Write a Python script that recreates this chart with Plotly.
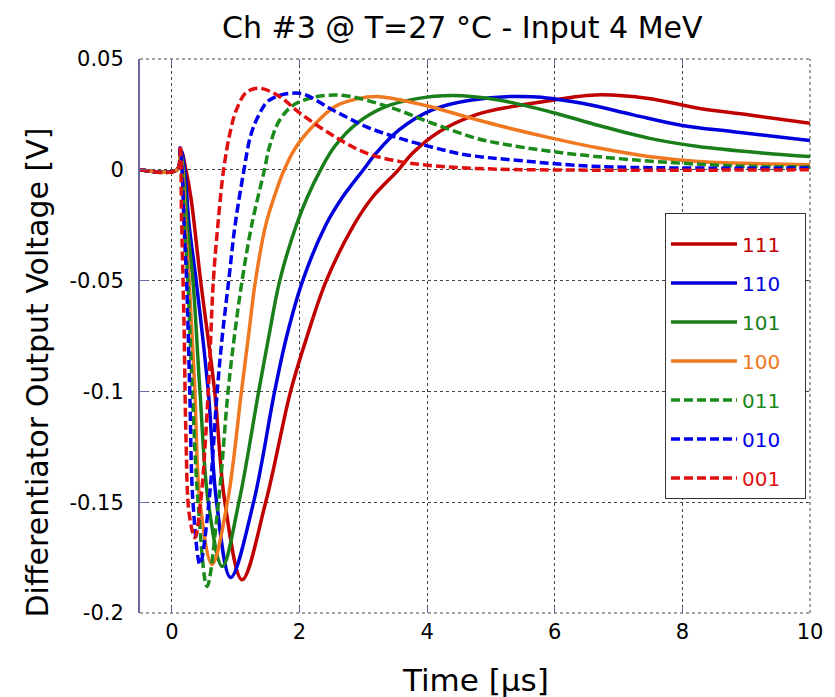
import plotly.graph_objects as go

# values (time in us, voltage in V)
x_111 = [-0.5, 0.08, 0.15, 0.22, 0.3, 0.45, 0.67, 0.83, 1.1, 1.47, 1.86, 2.12, 2.42, 2.85, 3.14, 3.55, 3.77, 4.19, 4.76, 5.33, 5.65, 6.64, 7.47, 8.25, 9.03, 10]
y_111 = [0, 0, 0.008, 0, -0.013, -0.05, -0.1, -0.15, -0.185, -0.15, -0.1, -0.075, -0.05, -0.025, -0.0125, 0, 0.0075, 0.0172, 0.0248, 0.0285, 0.03, 0.0338, 0.0322, 0.0278, 0.0248, 0.021]

x_110 = [-0.5, 0.08, 0.14, 0.2, 0.27, 0.38, 0.57, 0.7, 0.92, 1.28, 1.61, 1.8, 2.05, 2.41, 2.67, 3.0, 3.2, 3.56, 4.08, 4.7, 5.65, 6.43, 7.23, 8.0, 8.8, 10]
y_110 = [0, 0, 0.009, 0, -0.025, -0.05, -0.1, -0.15, -0.184, -0.15, -0.1, -0.075, -0.05, -0.025, -0.0125, 0, 0.0075, 0.018, 0.027, 0.0315, 0.033, 0.03, 0.0248, 0.02, 0.0172, 0.0132]

x_101 = [-0.5, 0.08, 0.13, 0.18, 0.24, 0.33, 0.44, 0.57, 0.79, 1.05, 1.36, 1.52, 1.69, 1.95, 2.12, 2.33, 2.55, 2.9, 3.35, 3.82, 4.4, 5.12, 5.95, 6.69, 7.47, 8.25, 9.29, 10]
y_101 = [0, 0, 0.008, 0, -0.025, -0.05, -0.1, -0.15, -0.179, -0.15, -0.1, -0.075, -0.05, -0.025, -0.0125, 0, 0.0105, 0.021, 0.0285, 0.032, 0.0335, 0.0315, 0.026, 0.02, 0.0143, 0.0105, 0.0075, 0.006]

x_100 = [-0.5, 0.08, 0.13, 0.17, 0.21, 0.27, 0.36, 0.44, 0.63, 0.87, 1.09, 1.2, 1.31, 1.47, 1.6, 1.76, 1.95, 2.22, 2.55, 2.9, 3.25, 3.98, 4.6, 5.12, 5.95, 6.69, 7.47, 8.25, 10]
y_100 = [0, 0, 0.008, 0, -0.025, -0.05, -0.1, -0.15, -0.178, -0.15, -0.1, -0.075, -0.05, -0.025, -0.0125, 0, 0.0105, 0.02, 0.0285, 0.032, 0.033, 0.029, 0.024, 0.02, 0.0143, 0.0098, 0.006, 0.0038, 0.0023]

x_011 = [-0.5, 0.08, 0.13, 0.16, 0.2, 0.25, 0.32, 0.41, 0.55, 0.73, 0.88, 0.98, 1.1, 1.25, 1.45, 1.53, 1.69, 1.95, 2.57, 3.39, 4.08, 4.76, 5.12, 5.97, 7.23, 8.8, 10]
y_011 = [0, 0, 0.009, 0, -0.025, -0.05, -0.1, -0.15, -0.188, -0.15, -0.1, -0.075, -0.05, -0.025, 0, 0.0105, 0.0225, 0.03, 0.0338, 0.0285, 0.021, 0.0143, 0.012, 0.0082, 0.0045, 0.0018, 0.0013]

x_010 = [-0.5, 0.08, 0.13, 0.16, 0.19, 0.23, 0.28, 0.33, 0.44, 0.58, 0.71, 0.79, 0.89, 0.99, 1.13, 1.23, 1.35, 1.53, 2.0, 2.52, 3.04, 3.56, 4.08, 4.6, 5.44, 6.69, 10]
y_010 = [0, 0, 0.01, 0, -0.025, -0.05, -0.1, -0.15, -0.178, -0.15, -0.1, -0.075, -0.05, -0.025, 0, 0.015, 0.024, 0.0315, 0.0345, 0.027, 0.0195, 0.0143, 0.0102, 0.0068, 0.0042, 0.0015, 0.0008]

x_001 = [-0.5, 0.08, 0.13, 0.15, 0.19, 0.22, 0.27, 0.36, 0.45, 0.57, 0.65, 0.72, 0.81, 0.91, 1.01, 1.17, 1.38, 1.69, 2.0, 2.55, 3.04, 3.56, 4.1, 5.1, 10]
y_001 = [0, 0, 0.011, -0.02, -0.07, -0.12, -0.155, -0.166, -0.15, -0.1, -0.05, -0.025, 0, 0.0166, 0.027, 0.035, 0.0368, 0.033, 0.0257, 0.015, 0.0076, 0.0038, 0.0018, 0.0003, 0]

y_ticks = [0.05, 0, -0.05, -0.1, -0.15, -0.2]
y_labels = ["0.05", "0", "-0.05", "-0.1", "-0.15", "-0.2"]
x_ticks = [0, 2, 4, 6, 8, 10]

series = [
    ("111", x_111, y_111, "#c00000", "solid"),
    ("110", x_110, y_110, "#0000dd", "solid"),
    ("101", x_101, y_101, "#1a7f1a", "solid"),
    ("100", x_100, y_100, "#f07820", "solid"),
    ("011", x_011, y_011, "#1a8a1a", "9px,4px"),
    ("010", x_010, y_010, "#0000ee", "9px,4px"),
    ("001", x_001, y_001, "#e01010", "9px,4px"),
]

fig = go.Figure()
for i, (name, xs, ys, col, dash) in enumerate(series):
    fig.add_trace(go.Scatter(
        x=xs, y=ys, mode="lines",
        name="<span style='color:%s'>%s</span>&nbsp;&nbsp;&nbsp;" % (col, name),
        legendgroup=str(i),
        line=dict(color=col, width=3.5, dash=dash, shape="spline", smoothing=1.0),
    ))

font = "DejaVu Sans"
axis_col = "#6a6aa0"
# page body has an 8px margin, so the figure is a bit smaller than the window
fig.update_layout(
    width=827, height=689,
    paper_bgcolor="white", plot_bgcolor="white",
    margin=dict(l=132, r=23, t=51, b=84),
    font=dict(family=font, color="black"),
    legend=dict(x=0.994, y=0.722, xanchor="right", yanchor="top",
                bgcolor="white", bordercolor="#333333", borderwidth=1,
                font=dict(size=20), itemwidth=66, tracegroupgap=10,
                traceorder="grouped",
                title=dict(text=" ", font=dict(size=8))),
    annotations=[
        dict(text="Ch #3 @ T=27 °C - Input 4 MeV", x=0.481, y=1.0 + 51 / 554,
             xref="paper", yref="paper", showarrow=False,
             xanchor="center", yanchor="top", font=dict(size=30)),
        dict(text="Differentiator Output Voltage [V]", x=-0.153, y=0.435,
             xref="paper", yref="paper", showarrow=False, textangle=-90,
             xanchor="center", yanchor="middle", font=dict(size=30)),
        dict(text="Time [μs]", x=0.5, y=-0.121,
             xref="paper", yref="paper", showarrow=False,
             xanchor="center", yanchor="middle", font=dict(size=31)),
    ],
    shapes=[
        dict(type="line", xref="paper", yref="paper", x0=0, x1=1, y0=1, y1=1,
             line=dict(color="#444444", width=1, dash="dot")),
        dict(type="line", xref="paper", yref="paper", x0=0, x1=1, y0=0, y1=0,
             line=dict(color="#444444", width=1, dash="dot")),
        dict(type="line", xref="paper", yref="paper", x0=1, x1=1, y0=0, y1=1,
             line=dict(color="#444444", width=1, dash="dot")),
    ],
)
fig.update_xaxes(range=[-0.5, 10], tickvals=x_ticks, showgrid=True,
                 gridcolor="#444444", griddash="dot", gridwidth=1,
                 zeroline=False, showline=False, mirror="ticks", ticks="inside",
                 ticklen=6, tickcolor=axis_col, tickfont=dict(size=21),
                 ticklabelstandoff=4)
fig.update_yaxes(range=[-0.2, 0.05], tickvals=y_ticks, ticktext=y_labels,
                 showgrid=True, gridcolor="#444444", griddash="dot", gridwidth=1,
                 zeroline=False, showline=True, linecolor=axis_col, linewidth=2,
                 ticks="inside", ticklen=8, tickcolor=axis_col,
                 tickfont=dict(size=21), ticklabelstandoff=10)

fig.write_html("out.html")
